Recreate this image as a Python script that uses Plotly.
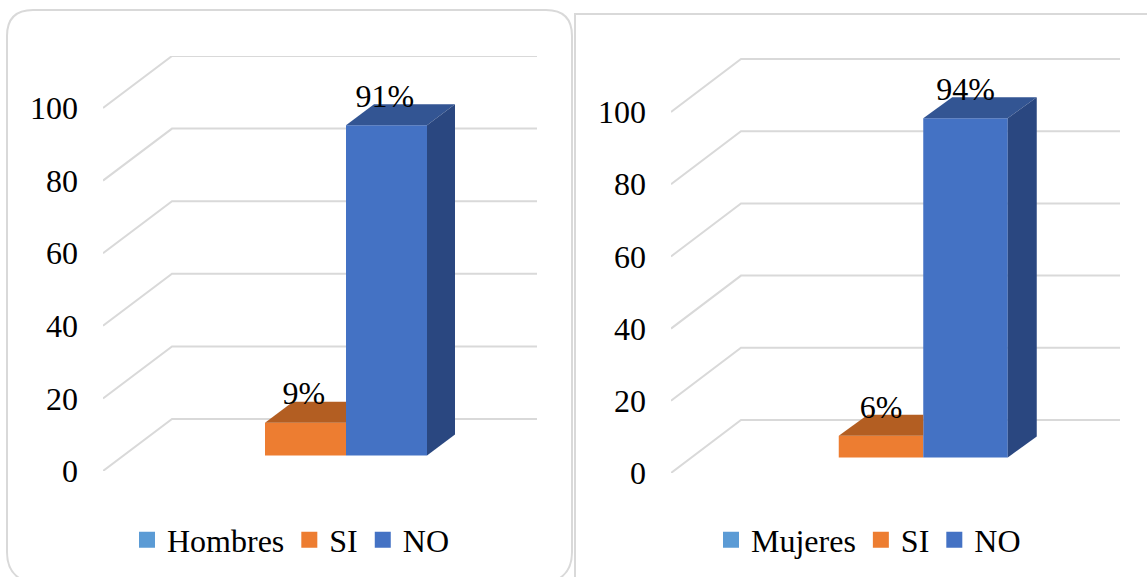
import plotly.graph_objects as go

# ---- data ----
SERIES_LEFT = ["Hombres", "SI", "NO"]
SERIES_RIGHT = ["Mujeres", "SI", "NO"]
VALUES_LEFT = [None, 9, 91]
VALUES_RIGHT = [None, 6, 94]
LABELS_LEFT = [None, "9%", "91%"]
LABELS_RIGHT = [None, "6%", "94%"]
TICKS = [0, 20, 40, 60, 80, 100]

# ---- style ----
W, H = 1147, 577
FONT = "Liberation Serif"
FS = 32
GRID = "#D9D9D9"
SWATCH = ["#5B9BD5", "#ED7D31", "#4472C4"]
TOP = [None, "#B35E22", "#335593"]
SIDE = [None, "#B35E22", "#2A4780"]

def fx(p): return p / W
def fy(p): return 1 - p / H

PANELS = [
    dict(names=SERIES_LEFT, vals=VALUES_LEFT, labs=LABELS_LEFT, xa="x", ya="y", legend="legend",
         px0=103, px1=537, slot=81.0, c0=224.5, py0=471, py_top=56, scale=3.63,
         wall=(69, 52), bar=(28, 21), base_px=15.5, lab=(-0.02, 5.5), leg_x=127),
    dict(names=SERIES_RIGHT, vals=VALUES_RIGHT, labs=LABELS_RIGHT, xa="x2", ya="y2", legend="legend2",
         px0=671, px1=1120, slot=84.5, c0=796.5, py0=473, py_top=58, scale=3.61,
         wall=(70, 53), bar=(29, 21), base_px=15.5, lab=(0.0, 5), leg_x=711),
]

fig = go.Figure()
shapes = []

for P in PANELS:
    s, u = P["slot"], P["scale"]
    xr = [(P["px0"] - P["c0"]) / s, (P["px1"] - P["c0"]) / s]
    wx, wy = P["wall"][0] / s, P["wall"][1] / u
    bx, by = P["bar"][0] / s, P["bar"][1] / u
    base = P["base_px"] / u

    # gridlines: front-left diagonal plus back wall, one per axis tick
    for t in TICKS:
        shapes.append(dict(
            type="path", xref=P["xa"], yref=P["ya"], layer="below",
            path=f"M {xr[0]} {t} L {xr[0] + wx} {t + wy} L {xr[1]} {t + wy}",
            line=dict(color=GRID, width=2)))

    last = len(P["vals"]) - 1
    for i, (name, v, lab) in enumerate(zip(P["names"], P["vals"], P["labs"])):
        # legend entry
        fig.add_trace(go.Scatter(
            x=[None], y=[None], mode="markers", name=name, xaxis=P["xa"], yaxis=P["ya"],
            legend=P["legend"], showlegend=True,
            marker=dict(symbol="square", size=16, color=SWATCH[i])))
        if v is None:
            continue
        l, r = i - 0.5, i + 0.5
        top = base + v
        # front face
        fig.add_trace(go.Bar(
            x=[i], y=[v], base=[base], width=[1.0], xaxis=P["xa"], yaxis=P["ya"],
            marker=dict(color=SWATCH[i], line=dict(width=0)), showlegend=False))
        # top face (a bar hidden by its right neighbour is cut at the shared edge)
        if i < last:
            xs, ys = [l, r, r, l + bx, l], [top, top, top + by, top + by, top]
        else:
            xs, ys = [l, r, r + bx, l + bx, l], [top, top, top + by, top + by, top]
        fig.add_trace(go.Scatter(
            x=xs, y=ys, mode="lines", fill="toself", fillcolor=TOP[i], line=dict(width=0),
            xaxis=P["xa"], yaxis=P["ya"], showlegend=False, hoverinfo="skip"))
        # side face
        if i == last:
            fig.add_trace(go.Scatter(
                x=[r, r + bx, r + bx, r, r], y=[base, base + by, top + by, top, base],
                mode="lines", fill="toself", fillcolor=SIDE[i], line=dict(width=0),
                xaxis=P["xa"], yaxis=P["ya"], showlegend=False, hoverinfo="skip"))

    # data labels, drawn last so that they sit over the bars
    for i, (v, lab) in enumerate(zip(P["vals"], P["labs"])):
        if v is None:
            continue
        fig.add_trace(go.Scatter(
            x=[i + P["lab"][0]], y=[base + v + by + P["lab"][1] / u], mode="text", text=[lab],
            textposition="middle center", textfont=dict(family=FONT, size=FS, color="#000000"),
            xaxis=P["xa"], yaxis=P["ya"], showlegend=False, hoverinfo="skip"))

# panel borders
shapes.append(dict(
    type="path", xref="paper", yref="paper", layer="below",
    path=(f"M {fx(560)} {fy(578)} Q {fx(572)} {fy(570)} {fx(572)} {fy(552)} "
          f"L {fx(572)} {fy(36)} Q {fx(572)} {fy(10)} {fx(546)} {fy(10)} "
          f"L {fx(33)} {fy(10)} Q {fx(7)} {fy(10)} {fx(7)} {fy(36)} "
          f"L {fx(7)} {fy(552)} Q {fx(7)} {fy(570)} {fx(19)} {fy(578)}"),
    line=dict(color=GRID, width=2)))
shapes.append(dict(
    type="path", xref="paper", yref="paper", layer="below",
    path=f"M {fx(575)} {fy(578)} L {fx(575)} {fy(14)} L {fx(1148)} {fy(14)}",
    line=dict(color=GRID, width=2)))

def axes(P):
    s, u = P["slot"], P["scale"]
    return (
        dict(domain=[fx(P["px0"]), fx(P["px1"])],
             range=[(P["px0"] - P["c0"]) / s, (P["px1"] - P["c0"]) / s],
             visible=False, fixedrange=True),
        dict(domain=[fy(P["py0"]), fy(P["py_top"])],
             range=[0, (P["py0"] - P["py_top"]) / u],
             tickmode="array", tickvals=TICKS, ticktext=[str(t) for t in TICKS],
             showgrid=False, zeroline=False, showline=False, ticks="",
             ticklabelstandoff=24,
             tickfont=dict(family=FONT, size=FS, color="#000000"), fixedrange=True),
    )

xa1, ya1 = axes(PANELS[0])
xa2, ya2 = axes(PANELS[1])
xa1["anchor"] = "y"; ya1["anchor"] = "x"
xa2["anchor"] = "y2"; ya2["anchor"] = "x2"

def legend(P):
    return dict(orientation="h", x=fx(P["leg_x"]), xanchor="left", y=fy(540), yanchor="middle",
                bgcolor="rgba(0,0,0,0)", traceorder="normal", font=dict(family=FONT, size=FS, color="#000000"))

fig.update_layout(
    width=W, height=H, margin=dict(l=0, r=0, t=0, b=0, autoexpand=False), autosize=False,
    paper_bgcolor="#FFFFFF", plot_bgcolor="rgba(0,0,0,0)", barmode="overlay", shapes=shapes,
    xaxis=xa1, yaxis=ya1, xaxis2=xa2, yaxis2=ya2,
    legend=legend(PANELS[0]), legend2=legend(PANELS[1]),
)

fig.write_html("out.html", config={"displayModeBar": False},
               post_script="document.body.style.margin='0';document.documentElement.style.overflow='hidden';")
